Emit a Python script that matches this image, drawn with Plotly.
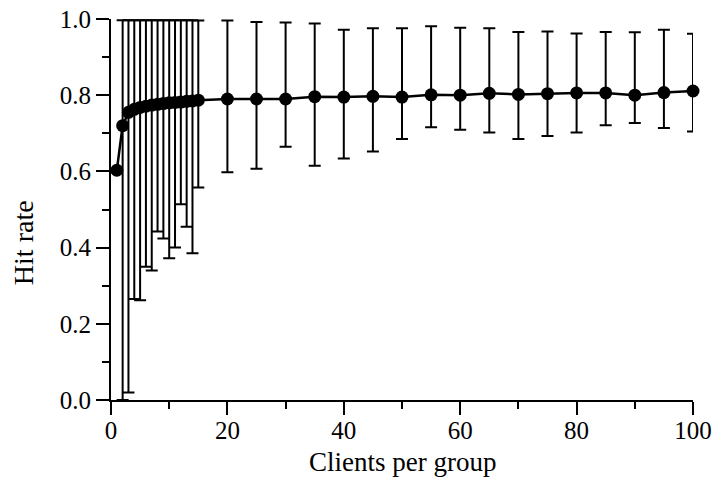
import plotly.graph_objects as go

# Clients per group
clients = [1, 2, 3, 4, 5, 6, 7, 8, 9, 10, 11, 12, 13, 14, 15,
           20, 25, 30, 35, 40, 45, 50, 55, 60, 65, 70, 75, 80, 85, 90, 95, 100]

# Mean hit rate
hit_mean = [0.603, 0.720, 0.755, 0.763, 0.768, 0.771, 0.774, 0.776, 0.778, 0.780,
            0.781, 0.782, 0.784, 0.785, 0.787,
            0.790, 0.790, 0.790, 0.796, 0.795, 0.797, 0.795, 0.801, 0.800,
            0.805, 0.802, 0.804, 0.806, 0.806, 0.800, 0.807, 0.811]

# Upper end of the spread
hit_upper = [0.603, 0.997, 0.997, 0.997, 0.997, 0.997, 0.997, 0.997, 0.997, 0.997,
             0.997, 0.997, 0.997, 0.997, 0.996,
             0.996, 0.992, 0.991, 0.988, 0.972, 0.976, 0.976, 0.981, 0.977,
             0.976, 0.966, 0.967, 0.962, 0.966, 0.965, 0.972, 0.961]

# Lower end of the spread
hit_lower = [0.603, 0.000, 0.020, 0.265, 0.262, 0.350, 0.340, 0.442, 0.424, 0.372,
             0.400, 0.514, 0.455, 0.385, 0.558,
             0.598, 0.607, 0.665, 0.615, 0.634, 0.652, 0.685, 0.716, 0.709,
             0.702, 0.685, 0.693, 0.702, 0.721, 0.727, 0.714, 0.705]

x_ticks = [0, 20, 40, 60, 80, 100]
y_ticks = [0.0, 0.2, 0.4, 0.6, 0.8, 1.0]
y_tick_text = ["0.0", "0.2", "0.4", "0.6", "0.8", "1.0"]

err_plus = [u - m for u, m in zip(hit_upper, hit_mean)]
err_minus = [m - l for m, l in zip(hit_mean, hit_lower)]

FONT = "Liberation Serif"

fig = go.Figure()
fig.add_trace(go.Scatter(
    x=clients, y=hit_mean,
    mode="lines+markers",
    line=dict(color="black", width=2.5),
    marker=dict(color="black", size=13),
    error_y=dict(type="data", symmetric=False, array=err_plus, arrayminus=err_minus,
                 color="black", thickness=2, width=6),
    cliponaxis=False,
    showlegend=False,
))

axis_common = dict(
    showline=True, linecolor="black", linewidth=2,
    ticks="outside", ticklen=13, tickwidth=2, tickcolor="black",
    showgrid=False, zeroline=False, automargin=False,
    tickfont=dict(family=FONT, size=25, color="#000000"),
)

fig.update_xaxes(
    range=[0, 100], tickvals=x_ticks, ticklabelstandoff=-6,
    minor=dict(ticks="outside", ticklen=7, tickwidth=2, tickcolor="black", dtick=10, tick0=0),
    **axis_common,
)
fig.update_yaxes(
    range=[0, 1.0], tickvals=y_ticks, ticktext=y_tick_text,
    minor=dict(ticks="outside", ticklen=7, tickwidth=2, tickcolor="black", dtick=0.1, tick0=0),
    **axis_common,
)

fig.add_annotation(
    text="Clients per group", xref="paper", yref="paper",
    x=0.5, y=-0.163, xanchor="center", yanchor="middle", showarrow=False,
    font=dict(family=FONT, size=27, color="#000000"),
)
fig.add_annotation(
    text="Hit rate", xref="paper", yref="paper", textangle=-90,
    x=-0.151, y=0.412, xanchor="center", yanchor="middle", showarrow=False,
    font=dict(family=FONT, size=28, color="#000000"),
)

fig.update_layout(
    width=714, height=479,
    margin=dict(l=111, r=21, t=19, b=79),
    paper_bgcolor="white", plot_bgcolor="white",
)

fig.write_html("out.html")
